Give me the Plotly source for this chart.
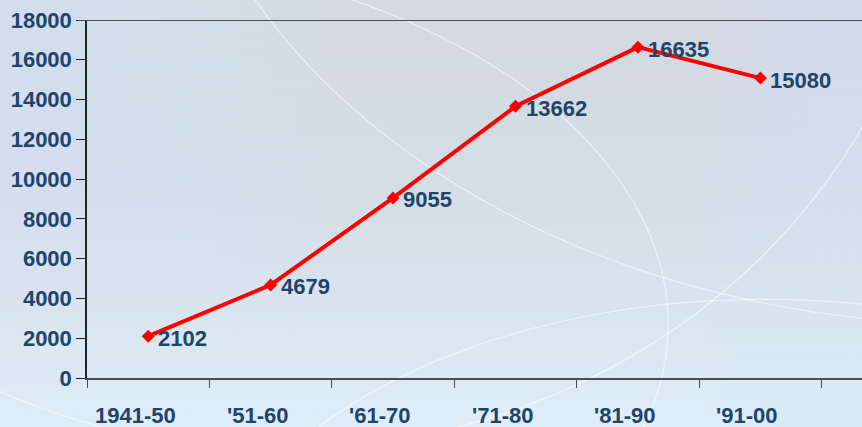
import plotly.graph_objects as go

categories = ["1941-50", "'51-60", "'61-70", "'71-80", "'81-90", "'91-00"]
values = [2102, 4679, 9055, 13662, 16635, 15080]
y_ticks = [0, 2000, 4000, 6000, 8000, 10000, 12000, 14000, 16000, 18000]

W, H = 862, 427
L, R, T, B = 87, 0, 20, 49
pw, ph = W - L - R, H - T - B
x0p, x1p = -L / pw, 1 + R / pw
y0p, y1p = -B / ph, 1 + T / ph

txt_color = "#21446b"
font_fam = "Liberation Sans, Arial, sans-serif"
lab_font = dict(family=font_fam, size=22, color=txt_color, weight="bold")

fig = go.Figure()
fig.add_trace(go.Scatter(
    x=categories, y=values, mode="lines+markers",
    line=dict(color="#ff0000", width=4),
    marker=dict(symbol="diamond", size=10, color="#ff0000"),
    cliponaxis=False, showlegend=False,
))

shapes = []
def mix(c1, c2, t):
    return "rgb(%d,%d,%d)" % tuple(round(a + (b - a) * t) for a, b in zip(c1, c2))
top_c = (210, 217, 225)
bot_c = (222, 237, 248)
n = 30
for i in range(n):
    t = i / (n - 1)
    ya = y1p - (y1p - y0p) * i / n
    yb = y1p - (y1p - y0p) * (i + 1) / n
    shapes.append(dict(type="rect", xref="paper", yref="paper", x0=x0p, x1=x1p,
                       y0=yb, y1=ya, fillcolor=mix(top_c, bot_c, t ** 1.8),
                       line=dict(width=0), layer="below"))
m = 12
for i in range(m):
    xr = x0p + (0.3 - x0p) * (i + 1) / m
    shapes.append(dict(type="rect", xref="paper", yref="paper", x0=x0p, x1=xr,
                       y0=y0p, y1=y1p, fillcolor="rgba(224,238,249,0.06)",
                       line=dict(width=0), layer="below"))
for i in range(m):
    xl = x1p - (x1p - 0.8) * (i + 1) / m
    shapes.append(dict(type="rect", xref="paper", yref="paper", x0=xl, x1=x1p,
                       y0=y0p, y1=y1p, fillcolor="rgba(224,238,249,0.05)",
                       line=dict(width=0), layer="below"))
arcs = [
    (-0.6, -0.2, 1.1, 3.2),
    (-0.4, -0.6, 1.6, 1.9),
    (0.15, -1.6, 1.6, 0.22),
    (-0.9, -0.9, 0.75, 1.2),
    (0.1, 0.15, 2.2, 3.5),
]
for (ax0, ay0, ax1, ay1) in arcs:
    shapes.append(dict(type="circle", xref="paper", yref="paper", x0=ax0, y0=ay0, x1=ax1, y1=ay1,
                       line=dict(color="rgba(255,255,255,0.5)", width=1.5), layer="below"))
shapes.append(dict(type="line", xref="paper", yref="y", x0=-9 / pw, x1=1, y0=18000, y1=18000,
                   line=dict(color="#4a4d52", width=2)))

# x tick labels as annotations (shifted slightly left, as in the reference)
annotations = [dict(x=c, y=0, xref="x", yref="paper", text=c, showarrow=False,
                    xanchor="center", yanchor="top", xshift=-13, yshift=-23,
                    font=lab_font) for c in categories]
# data labels
annotations += [dict(x=c, y=v, xref="x", yref="y", text=str(v), showarrow=False,
                     xanchor="left", yanchor="middle", xshift=8, yshift=-2,
                     font=lab_font) for c, v in zip(categories, values)]

fig.update_layout(
    width=W, height=H,
    margin=dict(l=L, r=R, t=T, b=B),
    paper_bgcolor="#d8e2ec", plot_bgcolor="rgba(0,0,0,0)",
    shapes=shapes, annotations=annotations,
    xaxis=dict(
        type="category", range=[-0.5, 5.83], tickson="boundaries",
        showgrid=False, showline=True, linecolor="#4a4d52", linewidth=1.5,
        ticks="outside", ticklen=8, tickcolor="#4a4d52", tickwidth=1,
        showticklabels=False, zeroline=False,
    ),
    yaxis=dict(
        range=[0, 18000], tickvals=y_ticks, tickformat="d", showgrid=False, zeroline=False,
        showline=True, linecolor="#222222", linewidth=1.5,
        ticks="outside", ticklen=9, tickcolor="#222222",
        tickfont=lab_font,
    ),
)

fig.write_html("out.html")
